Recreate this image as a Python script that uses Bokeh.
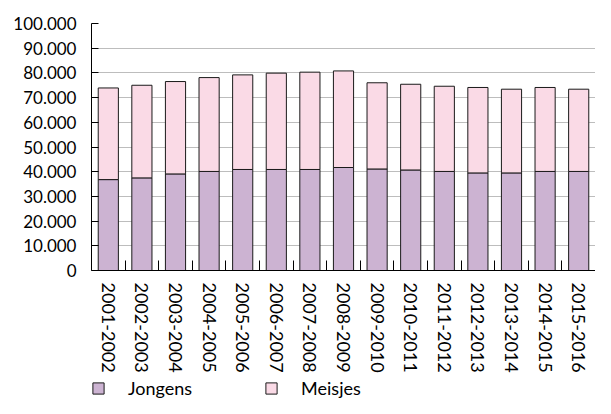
import numpy as np
from bokeh.plotting import figure
from bokeh.models import ColumnDataSource, Range1d, FixedTicker, Legend, LegendItem
from bokeh.embed import file_html
from bokeh.resources import INLINE

categories = ["2001-2002", "2002-2003", "2003-2004", "2004-2005", "2005-2006",
              "2006-2007", "2007-2008", "2008-2009", "2009-2010", "2010-2011",
              "2011-2012", "2012-2013", "2013-2014", "2014-2015", "2015-2016"]
jongens = [36800, 37500, 39100, 40100, 40900, 40900, 40900, 41700,
           41100, 40700, 40100, 39500, 39500, 40100, 40100]
meisjes = [37100, 37500, 37400, 38000, 38300, 39000, 39400, 39100,
           34900, 34700, 34500, 34600, 33900, 34000, 33300]
series_names = ["Jongens", "Meisjes"]
y_ticks = list(range(0, 100001, 10000))

PURPLE = "#CCB3D2"
PINK = "#FADAE6"
FONT = "Lato"

# plot height: 0..100000 over 247 px, and 128 px below zero for axis labels and legend
Y_MAX = 100000
Y_MIN = -Y_MAX * 128 / 247

xpos = list(range(1, len(categories) + 1))
source = ColumnDataSource(dict(x=xpos, Jongens=jongens, Meisjes=meisjes))

p = figure(width=595, height=398, output_backend="svg", toolbar_location=None,
           x_range=Range1d(0.5, len(categories) + 0.5), y_range=Range1d(Y_MIN, Y_MAX),
           min_border_left=91, min_border_right=0, min_border_top=23, min_border_bottom=0)
p.outline_line_color = None
p.background_fill_color = "white"
p.border_fill_color = "white"

renderers = p.vbar_stack(series_names, x="x", width=0.6, source=source,
                         fill_color=[PURPLE, PINK], line_color="#1a1a1a", line_width=1)

# x axis, drawn at y = 0
xa = p.xaxis[0]
xa.fixed_location = 0
xa.ticker = FixedTicker(ticks=xpos, minor_ticks=[i + 0.5 for i in range(len(categories) + 1)])
xa.major_label_overrides = {i: c for i, c in zip(xpos, categories)}
xa.major_label_orientation = "vertical"
xa.major_tick_in = 0
xa.major_tick_out = 0
xa.minor_tick_in = 10
xa.minor_tick_out = 0
xa.minor_tick_line_color = "black"
xa.axis_line_color = "black"
xa.major_label_standoff = 12
xa.major_label_text_font = FONT
xa.major_label_text_font_size = "18px"
xa.major_label_text_color = "black"

# y axis
ya = p.yaxis[0]
ya.bounds = (0, Y_MAX)
ya.ticker = FixedTicker(ticks=y_ticks)
ya.major_label_overrides = {t: f"{t:,}".replace(",", ".") for t in y_ticks}
ya.major_tick_in = 7
ya.major_tick_out = 0
ya.minor_tick_line_color = None
ya.axis_line_color = "black"
ya.major_tick_line_color = "black"
ya.major_label_standoff = 15
ya.major_label_text_font = FONT
ya.major_label_text_font_size = "17px"
ya.major_label_text_color = "black"

p.xgrid.grid_line_color = None
p.ygrid.ticker = FixedTicker(ticks=y_ticks)
p.ygrid.grid_line_color = "#7a7a7a"
p.ygrid.grid_line_dash = "1 1"
p.ygrid.grid_line_width = 1

legend = Legend(items=[LegendItem(label=n, renderers=[r]) for n, r in zip(series_names, renderers)],
                location=(0, -1), orientation="horizontal",
                glyph_width=14, glyph_height=14, label_standoff=23, spacing=72,
                padding=0, margin=0, border_line_color=None, background_fill_alpha=0,
                label_text_font=FONT, label_text_font_size="18px", label_text_color="black",
                label_height=14)
p.add_layout(legend, "center")

open("out.html", "w").write(file_html(p, INLINE))
